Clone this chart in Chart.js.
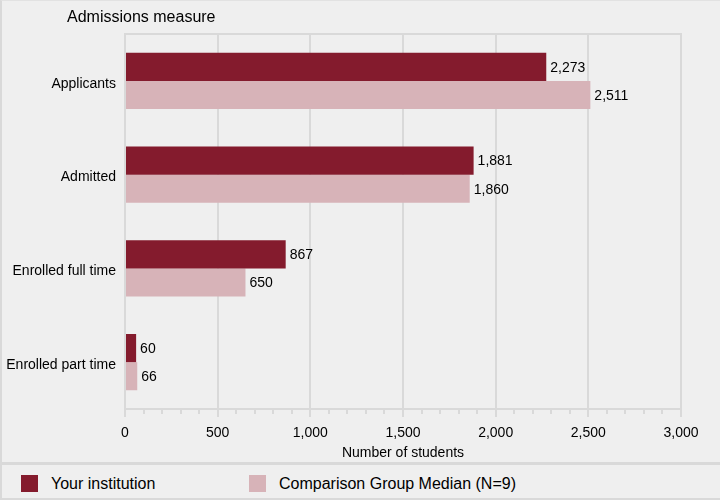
<!DOCTYPE html>
<html>
<head>
<meta charset="utf-8">
<script src="https://cdn.jsdelivr.net/npm/chart.js@4.4.1/dist/chart.umd.min.js"></script>
<style>
  body { margin: 0; background: #efefef; font-family: "Liberation Sans", Arial, sans-serif; }
  #wrap { position: relative; width: 720px; height: 500px; box-sizing: border-box; background: #efefef;
          border-left: 2px solid #d9d9d9; border-top: 1px solid #e2e2e2; border-bottom: 2px solid #d9d9d9; }
  #chartBox { position: absolute; left: -2px; top: 0px; width: 720px; height: 462px; }
  #sep { position: absolute; left: 0; right: 0; top: 461px; height: 3px; background: #d9d9d9; }
  .leg { position: absolute; top: 474px; font-size: 16px; color: #000; line-height: 17px; }
  .sw { display: inline-block; width: 17px; height: 17px; vertical-align: top; margin-right: 13px; }
</style>
</head>
<body>
<div id="wrap">
  <div id="chartBox"><canvas id="myChart"></canvas></div>
  <div id="sep"></div>
  <div class="leg" style="left:19px"><span class="sw" style="background:#841b2d"></span>Your institution</div>
  <div class="leg" style="left:247px"><span class="sw" style="background:#d7b3b8"></span>Comparison Group Median (N=9)</div>
</div>
<script>
'use strict';

const categories = ['Applicants', 'Admitted', 'Enrolled full time', 'Enrolled part time'];
const institution = [2273, 1881, 867, 60];
const comparison = [2511, 1860, 650, 66];
const xTicks = [0, 500, 1000, 1500, 2000, 2500, 3000];

const FONT = '"Liberation Sans", Arial, sans-serif';
const GRID = '#d9d9d9';

// value labels, title, top border line and minor ticks
const extras = {
  id: 'extras',
  afterDatasetsDraw(chart) {
    const ctx = chart.ctx;
    const area = chart.chartArea;
    const xScale = chart.scales.x;
    ctx.save();

    ctx.strokeStyle = GRID;
    ctx.lineWidth = 2;
    ctx.beginPath();
    ctx.moveTo(area.left - 1, area.top);
    ctx.lineTo(area.right + 1, area.top);
    ctx.stroke();

    ctx.beginPath();
    for (let v = 100; v < 3000; v += 100) {
      if (v % 500 === 0) continue;
      const px = Math.round(xScale.getPixelForValue(v));
      ctx.moveTo(px, area.bottom);
      ctx.lineTo(px, area.bottom + 5);
    }
    ctx.stroke();

    ctx.fillStyle = '#000';
    ctx.font = '14px ' + FONT;
    ctx.textBaseline = 'middle';
    ctx.textAlign = 'left';
    chart.data.datasets.forEach((ds, i) => {
      chart.getDatasetMeta(i).data.forEach((bar, j) => {
        ctx.fillText(ds.data[j].toLocaleString('en-US'), bar.x + 4, bar.y + 1);
      });
    });

    ctx.font = '16px ' + FONT;
    ctx.fillText('Admissions measure', 67, 17);
    ctx.restore();
  }
};

new Chart(document.getElementById('myChart'), {
  type: 'bar',
  data: {
    labels: categories,
    datasets: [
      { label: 'Your institution', data: institution, backgroundColor: '#841b2d' },
      { label: 'Comparison Group Median (N=9)', data: comparison, backgroundColor: '#d7b3b8' }
    ]
  },
  options: {
    indexAxis: 'y',
    responsive: true,
    maintainAspectRatio: false,
    animation: false,
    categoryPercentage: 0.6,
    barPercentage: 1.0,
    layout: { padding: { top: 33, right: 39, left: 0, bottom: 0 } },
    plugins: {
      legend: { display: false },
      tooltip: { enabled: false }
    },
    scales: {
      y: {
        grid: { display: false, drawTicks: false },
        border: { display: false },
        ticks: { color: '#000', padding: 9, labelOffset: 3, font: { family: FONT, size: 14 } },
        afterFit(scale) { scale.width = 125; }
      },
      x: {
        min: 0,
        max: 3000,
        afterBuildTicks(scale) { scale.ticks = xTicks.map(v => ({ value: v })); },
        ticks: {
          color: '#000',
          padding: 8,
          maxRotation: 0,
          autoSkip: false,
          font: { family: FONT, size: 14 },
          callback: v => v.toLocaleString('en-US')
        },
        grid: { color: GRID, lineWidth: 2, tickLength: 8, tickColor: GRID },
        border: { color: GRID, width: 2 },
        title: {
          display: true,
          text: 'Number of students',
          color: '#000',
          font: { family: FONT, size: 14 },
          padding: { top: 0, bottom: 1 }
        },
        afterFit(scale) { scale.height = 54; }
      }
    }
  },
  plugins: [extras]
});
</script>
</body>
</html>
